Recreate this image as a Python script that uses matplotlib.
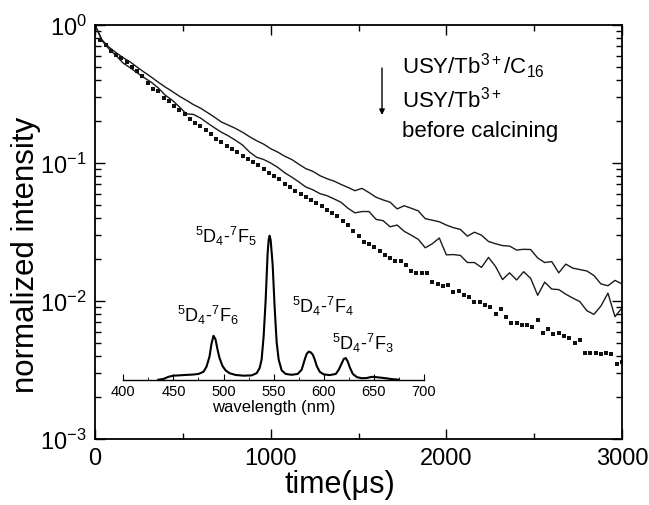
import matplotlib
matplotlib.use("Agg")
import matplotlib.pyplot as plt
from matplotlib.ticker import MultipleLocator, LogLocator, NullFormatter

plt.rcParams['font.family'] = ['Liberation Sans', 'DejaVu Sans']
plt.rcParams['mathtext.fontset'] = 'custom'
plt.rcParams['mathtext.rm'] = 'Liberation Sans'
plt.rcParams['mathtext.it'] = 'Liberation Sans:italic'
plt.rcParams['mathtext.bf'] = 'Liberation Sans:bold'
plt.rcParams['axes.unicode_minus'] = False

# ---------------- decay data ----------------
time_solid = list(range(0, 3001, 40))
decay_c16 = [
    1.00, 0.78, 0.69, 0.63, 0.58, 0.54, 0.495, 0.455, 0.42, 0.385,
    0.355, 0.33, 0.305, 0.285, 0.265, 0.25, 0.232, 0.215, 0.198, 0.188,
    0.178, 0.167, 0.155, 0.145, 0.137, 0.127, 0.12, 0.112, 0.106, 0.098,
    0.091, 0.087, 0.081, 0.077, 0.074, 0.070, 0.0665, 0.063, 0.0655, 0.061,
    0.0565, 0.054, 0.052, 0.0465, 0.049, 0.047, 0.045, 0.0395, 0.0385, 0.0375,
    0.0355, 0.034, 0.033, 0.0295, 0.0315, 0.030, 0.027, 0.026, 0.0252, 0.025,
    0.0234, 0.0237, 0.0236, 0.0205, 0.019, 0.0193, 0.016, 0.0185, 0.0173, 0.0169,
    0.0165, 0.0153, 0.0133, 0.0129, 0.0141, 0.0133,
]
decay_tb = [
    1.00, 0.77, 0.67, 0.60, 0.53, 0.49, 0.45, 0.415, 0.385, 0.35,
    0.31, 0.285, 0.255, 0.227, 0.225, 0.212, 0.195, 0.18, 0.167, 0.157,
    0.146, 0.135, 0.12, 0.11, 0.106, 0.100, 0.093, 0.085, 0.079, 0.073,
    0.067, 0.064, 0.060, 0.058, 0.055, 0.052, 0.047, 0.0435, 0.0445, 0.0445,
    0.039, 0.0382, 0.0345, 0.0355, 0.032, 0.030, 0.028, 0.0243, 0.026, 0.0286,
    0.0216, 0.0217, 0.0214, 0.019, 0.019, 0.0175, 0.0207, 0.0178, 0.0143, 0.016,
    0.0142, 0.0163, 0.0146, 0.011, 0.0137, 0.0122, 0.0121, 0.0112, 0.0105, 0.0099,
    0.0085, 0.0080, 0.0092, 0.0114, 0.0077, 0.0089,
]
time_dots = list(range(0, 3001, 30))
decay_before = [
    1.0, 0.78, 0.72, 0.65, 0.605, 0.577, 0.535, 0.50, 0.463, 0.425,
    0.38, 0.345, 0.33, 0.294, 0.282, 0.26, 0.243, 0.225, 0.208, 0.196,
    0.185, 0.172, 0.163, 0.15, 0.142, 0.132, 0.127, 0.12, 0.113, 0.107,
    0.101, 0.096, 0.09, 0.085, 0.081, 0.076, 0.071, 0.067, 0.063, 0.06,
    0.057, 0.054, 0.051, 0.0485, 0.046, 0.0435, 0.041, 0.038, 0.0355, 0.032,
    0.0295, 0.0269, 0.026, 0.0248, 0.0232, 0.0216, 0.0205, 0.0196, 0.0196, 0.0181,
    0.0166, 0.016, 0.016, 0.0159, 0.0138, 0.0133, 0.0128, 0.0131, 0.0117, 0.0119,
    0.011, 0.0107, 0.0099, 0.0098, 0.0094, 0.0091, 0.008, 0.0087, 0.0077, 0.0069,
    0.0069, 0.0067, 0.0067, 0.0065, 0.0073, 0.0059, 0.0063, 0.0058, 0.0059, 0.0056,
    0.0054, 0.005, 0.0052, 0.0042, 0.0042, 0.0042, 0.0041, 0.0042, 0.0041, 0.0035,
    0.0036,
]

# ---------------- inset spectrum ----------------
wavelength = [435, 440, 445, 450, 460, 470, 475, 480, 483, 486, 488, 490, 492, 494,
              496, 499, 502, 506, 512, 520, 528, 533, 536, 538, 540, 542, 544, 545,
              546, 547, 549, 551, 553, 555, 558, 562, 568, 574, 578, 581, 583, 585,
              587, 589, 591, 593, 596, 600, 606, 612, 615, 618, 620, 622, 624, 626,
              629, 633, 638, 643, 648, 652, 657, 662, 668, 675]
emission = [0.0, 0.005, 0.02, 0.028, 0.032, 0.036, 0.04, 0.055, 0.09, 0.16, 0.25, 0.305,
            0.28, 0.21, 0.15, 0.095, 0.065, 0.045, 0.033, 0.028, 0.03, 0.045, 0.08, 0.14,
            0.30, 0.55, 0.88, 0.97, 1.0, 0.97, 0.80, 0.50, 0.26, 0.14, 0.065, 0.04, 0.034,
            0.04, 0.07, 0.14, 0.18, 0.195, 0.19, 0.175, 0.14, 0.095, 0.055, 0.037, 0.032,
            0.04, 0.07, 0.115, 0.145, 0.15, 0.125, 0.085, 0.04, 0.018, 0.01, 0.012, 0.02,
            0.018, 0.014, 0.01, 0.004, 0.0]

assert len(time_solid) == len(decay_c16) == len(decay_tb)
assert len(time_dots) == len(decay_before)
assert len(wavelength) == len(emission)

W, H = 649, 506
fig = plt.figure(figsize=(W / 100, H / 100), dpi=100)
ax = fig.add_axes([95 / W, (H - 440) / H, 527 / W, 414 / H])

ax.plot(time_solid, decay_c16, color='#1a1a1a', lw=1.0)
ax.plot(time_solid, decay_tb, color='#1a1a1a', lw=1.0)
ax.plot(time_dots, decay_before, ls='none', marker='s', ms=2.8, color='#111111', mew=0)

ax.set_yscale('log')
ax.set_xlim(0, 3000)
ax.set_ylim(1e-3, 1)
ax.xaxis.set_major_locator(MultipleLocator(1000))
ax.xaxis.set_minor_locator(MultipleLocator(500))
ax.yaxis.set_major_locator(LogLocator(base=10, numticks=10))
ax.yaxis.set_minor_locator(LogLocator(base=10, subs=range(2, 10), numticks=20))
ax.yaxis.set_minor_formatter(NullFormatter())
ax.tick_params(which='both', direction='in', top=True, right=True, labelsize=17, width=1.0)
ax.tick_params(which='major', length=7)
ax.tick_params(which='minor', length=4)
ax.tick_params(axis='x', pad=6)
ax.tick_params(axis='y', pad=6)
for s in ax.spines.values():
    s.set_linewidth(1.3)

ax.set_xlabel('time(μs)', fontsize=22)
ax.xaxis.set_label_coords((340 - 95) / 527, (440 - 470) / 414)
ax.set_ylabel('normalized intensity', fontsize=22.5)
ax.yaxis.set_label_coords((41 - 95) / 527, (440 - 255) / 414)

# legend-like annotation
tr = ax.transAxes
def px(x, y):
    return ((x - 95) / 527, (440 - y) / 414)

ax.text(*px(402, 74), 'USY/Tb$^{3+}$/C$_{16}$', transform=tr, fontsize=16, va='baseline')
ax.text(*px(402, 108), 'USY/Tb$^{3+}$', transform=tr, fontsize=16, va='baseline')
ax.text(*px(402, 137), 'before calcining', transform=tr, fontsize=16, va='baseline')
ax.annotate('', xy=px(382, 116), xytext=px(382, 69), xycoords=tr, textcoords=tr,
            arrowprops=dict(arrowstyle='-|>', color='black', lw=1.0,
                            mutation_scale=8, shrinkA=0, shrinkB=0))

# inset
ins = fig.add_axes([123.3 / W, (H - 380.7) / H, 300.7 / W, 144 / H])
ins.patch.set_alpha(0)
ins.plot(wavelength, emission, color='black', lw=1.5, clip_on=False)
ins.set_xlim(400, 700)
ins.set_ylim(0, 1.0)
for k in ('left', 'right', 'top'):
    ins.spines[k].set_visible(False)
ins.spines['bottom'].set_linewidth(1.0)
ins.set_yticks([])
ins.xaxis.set_major_locator(MultipleLocator(50))
ins.xaxis.set_minor_locator(MultipleLocator(25))
ins.tick_params(axis='x', which='both', direction='in', labelsize=10.5, pad=3)
ins.tick_params(axis='x', which='major', length=4)
ins.tick_params(axis='x', which='minor', length=2)
ins.set_xlabel('wavelength (nm)', fontsize=12, labelpad=1)

def ipx(x, y):
    return (400 + (x - 123.3) * 300 / 300.7, (380.7 - y) / 144)

ins.text(*ipx(195, 243), '$^{5}$D$_{4}$-$^{7}$F$_{5}$', fontsize=13, va='baseline')
ins.text(*ipx(177, 322), '$^{5}$D$_{4}$-$^{7}$F$_{6}$', fontsize=13, va='baseline')
ins.text(*ipx(292, 313), '$^{5}$D$_{4}$-$^{7}$F$_{4}$', fontsize=13, va='baseline')
ins.text(*ipx(332, 350), '$^{5}$D$_{4}$-$^{7}$F$_{3}$', fontsize=13, va='baseline')

fig.savefig('out.png', dpi=100)
